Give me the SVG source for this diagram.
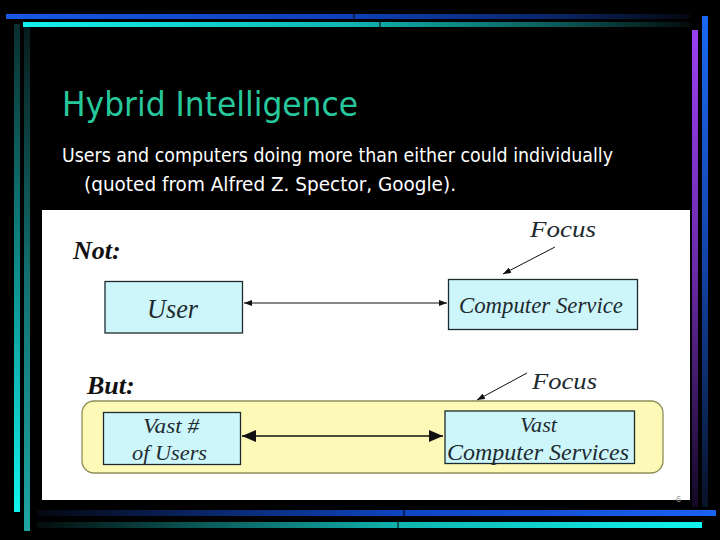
<svg xmlns="http://www.w3.org/2000/svg" width="720" height="540" viewBox="0 0 720 540">
<defs>
<style>
.title{font-family:"DejaVu Sans","Liberation Sans",sans-serif;font-size:33px;fill:#26c89c}
.body{font-family:"DejaVu Sans","Liberation Sans",sans-serif;font-size:19px;fill:#ffffff}
.lbl{font-family:"Liberation Serif","DejaVu Serif",serif;font-style:italic;fill:#1d2b2f}
.hdr{font-family:"Liberation Serif","DejaVu Serif",serif;font-style:italic;font-weight:bold;font-size:26px;fill:#111}
.box{fill:#cdf6fb;stroke:#1d2b2f;stroke-width:1.3}
.grp{fill:#fdf9b6;stroke:#8f8f5a;stroke-width:1.3}
.con{stroke:#111;fill:none}
</style>
<linearGradient id="gTopBlue" x1="0" y1="0" x2="1" y2="0">
<stop offset="0" stop-color="#1858e4"/><stop offset="0.5" stop-color="#0e40b8"/><stop offset="0.8" stop-color="#0a2668"/><stop offset="1" stop-color="#04070f"/>
</linearGradient>
<linearGradient id="gTopCyan" x1="0" y1="0" x2="1" y2="0">
<stop offset="0" stop-color="#12f2ee"/><stop offset="0.5" stop-color="#10b4b0"/><stop offset="0.8" stop-color="#0a5a58"/><stop offset="1" stop-color="#040c0c"/>
</linearGradient>
<linearGradient id="gBotBlue" x1="0" y1="0" x2="1" y2="0">
<stop offset="0" stop-color="#04070f"/><stop offset="0.25" stop-color="#0a2668"/><stop offset="0.55" stop-color="#0e46c4"/><stop offset="1" stop-color="#1a62f2"/>
</linearGradient>
<linearGradient id="gBotCyan" x1="0" y1="0" x2="1" y2="0">
<stop offset="0" stop-color="#040c0c"/><stop offset="0.25" stop-color="#0a5a58"/><stop offset="0.55" stop-color="#10b4b0"/><stop offset="1" stop-color="#12f2ee"/>
</linearGradient>
<linearGradient id="gL1" x1="0" y1="0" x2="0" y2="1">
<stop offset="0" stop-color="#0a2e2e"/><stop offset="0.5" stop-color="#0e8a88"/><stop offset="1" stop-color="#12f4f0"/>
</linearGradient>
<linearGradient id="gL2" x1="0" y1="0" x2="0" y2="1">
<stop offset="0" stop-color="#081c1c"/><stop offset="0.5" stop-color="#127070"/><stop offset="1" stop-color="#1ea6a2"/>
</linearGradient>
<linearGradient id="gRP" x1="0" y1="0" x2="0" y2="1">
<stop offset="0" stop-color="#9a40f2"/><stop offset="0.5" stop-color="#6a2aa8"/><stop offset="1" stop-color="#140824"/>
</linearGradient>
<linearGradient id="gRB" x1="0" y1="0" x2="0" y2="1">
<stop offset="0" stop-color="#1a68f2"/><stop offset="0.5" stop-color="#1244a8"/><stop offset="1" stop-color="#081228"/>
</linearGradient>
<marker id="sm" viewBox="0 0 8 6" refX="8" refY="3" markerWidth="8" markerHeight="6" markerUnits="userSpaceOnUse" orient="auto-start-reverse">
<path d="M0,0 L8,3 L0,6 z" fill="#111"/>
</marker>
<marker id="lg" viewBox="0 0 14 12" refX="14" refY="6" markerWidth="14" markerHeight="12" markerUnits="userSpaceOnUse" orient="auto-start-reverse">
<path d="M0,0 L14,6 L0,12 z" fill="#111"/>
</marker>
</defs>

<rect x="0" y="0" width="720" height="540" fill="#000"/>

<g id="frame">
<rect x="6" y="14" width="684" height="5" fill="url(#gTopBlue)"/>
<rect x="23" y="22" width="667" height="5" fill="url(#gTopCyan)"/>
<rect x="14" y="24" width="6" height="488" fill="url(#gL1)"/>
<rect x="24" y="27" width="6" height="504" fill="url(#gL2)"/>
<rect x="692" y="30" width="6" height="477" fill="url(#gRP)"/>
<rect x="702" y="16" width="6" height="491" fill="url(#gRB)"/>
<rect x="37" y="510" width="679" height="6" fill="url(#gBotBlue)"/>
<rect x="37" y="522" width="665" height="6" fill="url(#gBotCyan)"/>
<line x1="354" y1="14" x2="354" y2="19" stroke="#000" stroke-width="1"/>
<line x1="380" y1="22" x2="380" y2="27" stroke="#000" stroke-width="1"/>
<line x1="404" y1="510" x2="404" y2="516" stroke="#000" stroke-width="1"/>
<line x1="398" y1="522" x2="398" y2="528" stroke="#000" stroke-width="1"/>
</g>

<g id="heading">
<text class="title" x="62" y="116" textLength="296" lengthAdjust="spacingAndGlyphs">Hybrid Intelligence</text>
<text class="body" x="62" y="162" textLength="551" lengthAdjust="spacingAndGlyphs">Users and computers doing more than either could individually</text>
<text class="body" x="84" y="191" textLength="372" lengthAdjust="spacingAndGlyphs">(quoted from Alfred Z. Spector, Google).</text>
</g>

<rect id="panel" x="42" y="210" width="648" height="290" fill="#fff"/>

<text x="676" y="502" font-family="Liberation Sans, sans-serif" font-size="9" fill="#999">6</text>

<g id="labels">
<text class="hdr" x="73" y="259">Not:</text>
<text class="hdr" x="87" y="394">But:</text>
<text class="lbl" x="530" y="237" font-size="23" textLength="66" lengthAdjust="spacingAndGlyphs">Focus</text>
<text class="lbl" x="532" y="389" font-size="23" textLength="65" lengthAdjust="spacingAndGlyphs">Focus</text>
</g>

<g id="group-but">
<rect class="grp" x="82" y="401" width="581" height="72" rx="12" ry="12"/>
</g>

<g id="node-user">
<rect class="box" x="105" y="281.5" width="137.5" height="51.5"/>
<text class="lbl" x="147" y="318" font-size="28" textLength="51" lengthAdjust="spacingAndGlyphs">User</text>
</g>

<g id="node-computer-service">
<rect class="box" x="448.5" y="279.5" width="189" height="50"/>
<text class="lbl" x="459" y="313" font-size="23" textLength="164" lengthAdjust="spacingAndGlyphs">Computer Service</text>
</g>

<g id="node-vast-users">
<rect class="box" x="103.5" y="412.5" width="137" height="52"/>
<text class="lbl" x="143" y="433" font-size="22" textLength="56" lengthAdjust="spacingAndGlyphs">Vast #</text>
<text class="lbl" x="132" y="460" font-size="22" textLength="75" lengthAdjust="spacingAndGlyphs">of Users</text>
</g>

<g id="node-vast-services">
<rect class="box" x="445" y="411" width="189.5" height="52.5"/>
<text class="lbl" x="520" y="432" font-size="22" textLength="37" lengthAdjust="spacingAndGlyphs">Vast</text>
<text class="lbl" x="447" y="460" font-size="23" textLength="182" lengthAdjust="spacingAndGlyphs">Computer Services</text>
</g>

<g id="connectors">
<line class="con" x1="244" y1="303" x2="447" y2="303" stroke-width="1" marker-start="url(#sm)" marker-end="url(#sm)"/>
<line class="con" x1="242" y1="436" x2="443" y2="436" stroke-width="1.5" marker-start="url(#lg)" marker-end="url(#lg)"/>
<line class="con" x1="555" y1="247" x2="503" y2="274" stroke-width="1" marker-end="url(#sm)"/>
<line class="con" x1="527" y1="373" x2="477" y2="400" stroke-width="1" marker-end="url(#sm)"/>
</g>
</svg>
